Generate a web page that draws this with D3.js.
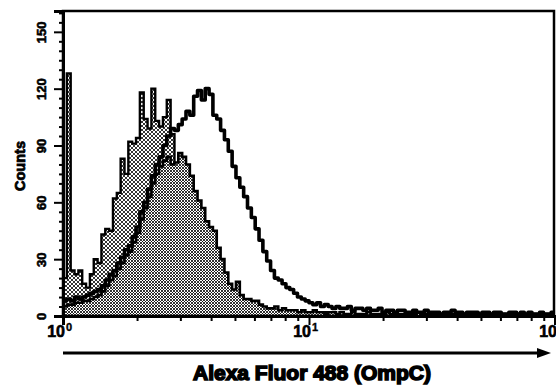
<!DOCTYPE html>
<meta charset="utf-8">
<script src="https://d3js.org/d3.v7.min.js"></script>
<style>
  body { margin: 0; background: #fff; }
  text { font-family: "Liberation Sans", Arial, sans-serif; font-weight: bold; }
</style>
<div id="chart"></div>
<script>
// histogram counts, one value per 2-channel bin (128 bins over 10^0 .. 10^2)
var controlCounts = [
  20,128,24,22,24,17,15,22,30,28,
  43,46,45,62,65,83,75,92,91,94,
  118,104,99,120,103,100,105,114,96,70,
  60,52,45,40,34,30,26,22,19,16,
  14,12,10,9,8,7,6,5,5,4,
  4,3,4,3,3,2,3,2,2,3,
  2,2,3,2,2,2,1,2,2,1,
  2,1,2,1,1,2,1,1,1,2,
  1,1,1,1,2,1,1,1,1,1,
  1,2,1,1,1,1,1,1,1,1,
  1,1,1,1,1,1,1,1,1,1,
  1,1,1,1,1,1,1,1,1,1,
  1,1,1,1,1,1,1,1];
var sampleCounts = [
  5,6,6,7,7,8,8,9,10,11,
  13,16,19,21,25,28,32,34,39,44,
  51,57,63,70,75,79,82,84,80,81,
  86,84,80,74,66,61,57,50,47,45,
  36,30,23,17,14,18,11,9,9,8,
  8,6,5,4,4,5,3,4,3,3,
  3,2,3,2,2,3,2,2,1,2,
  2,1,2,1,1,2,1,1,1,2,
  1,1,1,1,2,1,1,1,1,1,
  1,1,2,1,1,1,1,1,1,1,
  1,1,1,1,1,1,1,1,1,1,
  1,1,1,1,1,1,1,1,1,1,
  1,1,1,1,1,1,1,1];
var ompcCounts = [
  8,9,8,10,9,10,11,12,13,14,
  16,19,22,24,28,31,35,37,42,47,
  55,60,67,74,80,84,90,95,99,98,
  101,104,108,106,116,119,114,120,117,106,
  104,98,93,87,79,73,68,63,57,52,
  46,40,34,29,24,20,19,17,15,14,
  12,10,9,8,7,6,7,5,6,5,
  4,5,4,4,5,3,4,4,3,4,
  3,3,4,2,3,3,2,3,3,2,
  2,3,2,2,3,2,2,2,1,2,
  2,3,2,2,1,2,2,2,1,2,
  2,1,2,2,1,1,2,2,1,2,
  1,2,1,1,2,1,1,2];

var yMajor = [0, 30, 60, 90, 120, 150];
var xMajor = [1, 10, 100];
var xMinor = [2,3,4,5,6,7,8,9,20,30,40,50,60,70,80,90];
var xExponents = ["0", "1", "2"];
var xTitle = "Alexa Fluor 488 (OmpC)";
var yTitle = "Counts";

var W = 556, H = 390;
var margin = {top: 11, right: 1, bottom: 74, left: 63};

var svg = d3.select("#chart").append("svg")
    .attr("width", W).attr("height", H);

var x = d3.scaleLog().domain([1, 100]).range([margin.left, W - margin.right]);
var y = d3.scaleLinear().domain([0, 161]).range([H - margin.bottom, margin.top]);

// bin edges: 128 bins, 64 per decade
var edges = d3.range(129).map(function(i) { return Math.pow(10, i / 64); });

var defs = svg.append("defs");
defs.append("clipPath").attr("id", "clip").append("rect")
    .attr("x", x.range()[0]).attr("y", y.range()[1])
    .attr("width", x.range()[1] - x.range()[0])
    .attr("height", y.range()[0] - y.range()[1]);

var pA = defs.append("pattern").attr("id", "lightDots")
    .attr("patternUnits", "userSpaceOnUse").attr("width", 4).attr("height", 4);
pA.append("rect").attr("width", 4).attr("height", 4).attr("fill", "#fff");
pA.append("path").attr("d", "M0,0L4,4M4,0L0,4").attr("stroke", "#000").attr("stroke-width", 0.8);

var pB = defs.append("pattern").attr("id", "darkDots")
    .attr("patternUnits", "userSpaceOnUse").attr("width", 3).attr("height", 3);
pB.append("rect").attr("width", 3).attr("height", 3).attr("fill", "#fff");
pB.append("path").attr("d", "M0,0L3,3M3,0L0,3").attr("stroke", "#000").attr("stroke-width", 0.8);

function toPoints(counts) {
  var pts = counts.map(function(c, i) { return {x: edges[i], c: c}; });
  pts.push({x: edges[counts.length], c: counts[counts.length - 1]});
  return pts;
}

var area = d3.area()
    .curve(d3.curveStepAfter)
    .x(function(d) { return x(d.x); })
    .y0(y(0))
    .y1(function(d) { return y(d.c); });
var line = d3.line()
    .curve(d3.curveStepAfter)
    .x(function(d) { return x(d.x); })
    .y(function(d) { return y(d.c); });

var plot = svg.append("g").attr("clip-path", "url(#clip)");

// control histogram (light fill)
plot.append("path").datum(toPoints(controlCounts))
    .attr("d", area).attr("fill", "url(#lightDots)");
plot.append("path").datum(toPoints(controlCounts))
    .attr("d", line).attr("fill", "none").attr("stroke", "#000").attr("stroke-width", 2.4);

// second filled histogram (darker fill)
plot.append("path").datum(toPoints(sampleCounts))
    .attr("d", area).attr("fill", "url(#darkDots)");
plot.append("path").datum(toPoints(sampleCounts))
    .attr("d", line).attr("fill", "none").attr("stroke", "#000").attr("stroke-width", 2.6);

// open histogram, thick line
plot.append("path").datum(toPoints(ompcCounts))
    .attr("d", line).attr("fill", "none").attr("stroke", "#000")
    .attr("stroke-width", 3.6).attr("stroke-linejoin", "round");

// frame
svg.append("rect")
    .attr("x", x.range()[0]).attr("y", y.range()[1])
    .attr("width", x.range()[1] - x.range()[0] - 1)
    .attr("height", y.range()[0] - y.range()[1])
    .attr("fill", "none").attr("stroke", "#000").attr("stroke-width", 2.5);

// y axis
var yMinor = d3.range(0, 161, 5).filter(function(v) { return v % 30 !== 0; });
svg.append("g").attr("transform", "translate(" + x.range()[0] + ",0)")
    .call(d3.axisLeft(y).tickValues(yMinor).tickSize(4).tickFormat(""))
    .call(function(g) { g.select(".domain").remove(); })
    .selectAll("line").attr("stroke-width", 2);
var yAx = svg.append("g").attr("transform", "translate(" + x.range()[0] + ",0)")
    .call(d3.axisLeft(y).tickValues(yMajor).tickSize(9).tickFormat(d3.format("d")));
yAx.select(".domain").attr("stroke-width", 3);
yAx.selectAll("line").attr("stroke-width", 2);
yAx.selectAll("text")
    .attr("x", null).attr("dy", null)
    .attr("transform", "translate(-17,0) rotate(-90)")
    .attr("text-anchor", "middle")
    .attr("font-size", 13).attr("font-family", null)
    .attr("stroke", "#000").attr("stroke-width", 0.6);

// x axis
var xAxisY = y.range()[0];
svg.append("g").attr("transform", "translate(0," + xAxisY + ")")
    .call(d3.axisBottom(x).tickValues(xMinor).tickSize(5).tickFormat(""))
    .call(function(g) { g.select(".domain").remove(); })
    .selectAll("line").attr("stroke-width", 2);
var xAx = svg.append("g").attr("transform", "translate(0," + xAxisY + ")")
    .call(d3.axisBottom(x).tickValues(xMajor).tickSize(9).tickFormat(""));
xAx.select(".domain").attr("stroke-width", 3);
xAx.selectAll("line").attr("stroke-width", 2);

xMajor.forEach(function(v, i) {
  svg.append("text").attr("x", x(v) + 2).attr("y", xAxisY + 21)
      .attr("text-anchor", "end").attr("font-size", 16)
      .attr("stroke", "#000").attr("stroke-width", 0.6)
      .text("10");
  svg.append("text").attr("x", x(v) + 3).attr("y", xAxisY + 15)
      .attr("text-anchor", "start").attr("font-size", 11)
      .attr("stroke", "#000").attr("stroke-width", 0.4)
      .text(xExponents[i]);
});

// arrow under the axis
var arrowY = 353;
svg.append("line")
    .attr("x1", x.range()[0]).attr("x2", 540)
    .attr("y1", arrowY).attr("y2", arrowY)
    .attr("stroke", "#000").attr("stroke-width", 3);
svg.append("path")
    .attr("d", "M537," + (arrowY - 5) + "L551," + arrowY + "L537," + (arrowY + 5) + "Z")
    .attr("fill", "#000");

// titles
svg.append("text")
    .attr("x", 312).attr("y", 380)
    .attr("text-anchor", "middle").attr("font-size", 21)
    .attr("stroke", "#000").attr("stroke-width", 1.6)
    .text(xTitle);
svg.append("text")
    .attr("transform", "translate(25,166) rotate(-90)")
    .attr("text-anchor", "middle").attr("font-size", 14.5)
    .attr("stroke", "#000").attr("stroke-width", 0.8)
    .text(yTitle);
</script>
